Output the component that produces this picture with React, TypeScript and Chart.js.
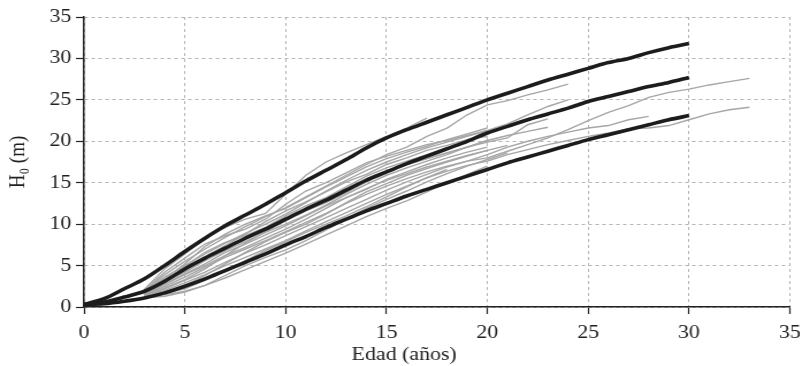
import React, { useEffect, useRef } from "react";
import { Chart, registerables } from "chart.js";

Chart.register(...registerables);

// ages (years)
const ages = [0, 1, 2, 3, 4, 5, 6, 7, 8, 9, 10, 11, 12, 13, 14, 15, 16, 17, 18, 19, 20, 21, 22, 23, 24, 25, 26, 27, 28, 29, 30, 31, 32, 33];
const xTicks = [0, 5, 10, 15, 20, 25, 30, 35];
const yTicks = [0, 5, 10, 15, 20, 25, 30, 35];

// site-index curves (start at age 0)
const curveHigh = [0.3, 1.0, 2.2, 3.4, 5.0, 6.7, 8.3, 9.8, 11.1, 12.4, 13.8, 15.2, 16.5, 17.8, 19.2, 20.4, 21.4, 22.3, 23.2, 24.1, 25.0, 25.8, 26.6, 27.4, 28.1, 28.8, 29.5, 30.0, 30.7, 31.3, 31.8];
const curveMid = [0.3, 0.6, 1.2, 1.9, 3.1, 4.6, 5.9, 7.1, 8.3, 9.4, 10.6, 11.8, 12.9, 14.1, 15.3, 16.3, 17.3, 18.2, 19.1, 20.0, 21.0, 21.8, 22.6, 23.3, 24.0, 24.8, 25.4, 26.0, 26.6, 27.1, 27.7];
const curveLow = [0.3, 0.4, 0.7, 1.1, 1.7, 2.5, 3.4, 4.4, 5.4, 6.4, 7.5, 8.5, 9.6, 10.6, 11.6, 12.5, 13.4, 14.2, 15.0, 15.8, 16.6, 17.4, 18.1, 18.8, 19.5, 20.2, 20.8, 21.4, 22.0, 22.6, 23.1];

// observed plot height series (start at age 3)
const obsStartAge = 3;
const obs01 = [2.15, 4.6, 6.4, 8.3, 9.6, 10.6, 11.3, 13.6, 15.9, 17.5, 18.6, 19.6, 20.6, 21.6, 22.8];
const obs02 = [1.95, 3.9, 5.5, 7.0, 8.4, 9.7, 10.9, 12.0, 13.3, 14.6, 15.9, 17.2, 18.4, 19.3, 20.6, 21.6, 23.2, 24.4, 24.9, 25.6, 26.2, 26.9];
const obs03 = [1.85, 3.6, 5.0, 6.4, 7.7, 8.9, 10.0, 11.2, 12.6, 14.0, 15.3, 16.5, 17.5, 18.4, 19.2, 19.9, 20.6, 21.3, 22.1, 23.2, 24.2, 25.0];
const obs04 = [1.75, 3.3, 4.6, 5.9, 7.2, 8.3, 9.4, 10.7, 11.9, 13.1, 14.3, 15.5, 16.4, 17.2, 17.9, 18.6, 19.3, 19.9, 20.4, 22.0, 22.7];
const obs05 = [1.65, 3.0, 4.2, 5.6, 6.8, 7.9, 9.0, 10.0, 11.1, 12.3, 13.6, 14.8, 15.9, 16.8, 17.6, 18.4, 19.3, 20.1, 20.7, 21.2, 21.7];
const obs06 = [1.5, 2.7, 3.9, 5.0, 6.2, 7.2, 8.3, 9.4, 10.6, 11.9, 13.2, 14.3, 15.3, 16.1, 16.9, 17.6, 18.3, 18.9, 19.5];
const obs07 = [1.35, 2.2, 3.2, 4.2, 5.4, 6.5, 7.5, 8.6, 9.7, 10.8, 11.9, 13.0, 14.1, 15.1, 16.0, 16.9, 17.6, 18.4, 19.3, 20.0, 20.6, 21.1, 21.6, 21.9, 22.6, 23.0];
const obs08 = [1.45, 2.5, 3.6, 4.8, 6.0, 7.0, 8.0, 9.1, 10.2, 11.3, 12.5, 13.6, 14.6, 15.5, 16.3, 17.0, 17.6, 18.0, 18.8, 19.6, 20.4, 21.4, 22.5, 23.5, 24.3, 25.3, 25.9, 26.3, 26.8, 27.2, 27.6];
const obs09 = [1.3, 2.0, 2.9, 3.9, 5.0, 6.0, 7.0, 8.0, 9.2, 10.3, 11.4, 12.5, 13.6, 14.6, 15.6, 16.4, 17.1, 17.6, 18.4, 19.0, 19.6, 20.1, 20.6, 21.0, 21.5, 21.6, 21.9, 22.6, 23.3, 23.8, 24.1];
const obs10 = [1.15, 1.5, 1.9, 2.6, 3.5, 4.5, 5.5, 6.5, 7.6, 8.7, 9.8, 10.9, 11.9, 12.8, 13.9, 15.0, 16.0, 17.0];
const obs11 = [1.8, 3.4, 5.2, 7.3, 8.8, 10.0, 11.0, 11.9, 13.2, 14.5, 15.7, 16.9, 17.9, 18.7, 19.4, 20.2, 20.9, 21.6];
const obs12 = [1.6, 2.9, 4.4, 6.1, 7.4, 8.8, 10.3, 11.6, 12.7, 13.9, 15.1, 16.0, 17.2, 18.0, 18.9, 19.5, 20.2, 20.6];
const obs13 = [1.4, 2.3, 3.3, 4.6, 6.2, 7.7, 9.1, 10.4, 11.6, 12.6, 13.8, 15.1, 16.4, 17.2, 17.9, 18.6, 19.3, 20.1];
const obs14 = [1.25, 1.8, 2.6, 3.8, 5.2, 6.6, 7.9, 9.0, 10.0, 11.2, 12.6, 13.9, 14.9, 15.9, 16.7, 17.5, 18.2, 18.9];
const obs15 = [1.1, 1.3, 1.8, 2.6, 3.8, 5.0, 6.0, 6.9, 8.0, 9.3, 10.6, 11.9, 13.0, 14.0, 15.1, 16.1, 17.0, 17.8, 18.6];
const obs16 = [1.7, 3.2, 4.9, 6.6, 7.8, 8.6, 9.6, 11.0, 12.2, 13.2, 14.5, 15.8, 16.8, 17.6, 18.4, 19.2, 20.0, 20.9];
const obs17 = [1.55, 2.8, 4.0, 5.2, 6.6, 7.6, 8.7, 9.8, 11.0, 12.2, 13.2, 14.2, 15.4, 16.3, 17.2, 18.0, 18.7, 19.3];
const obs18 = [1.2, 1.7, 2.2, 3.2, 4.3, 5.6, 6.8, 7.9, 9.0, 10.0, 11.0, 12.1, 13.3, 14.5, 15.6, 16.6];
const obs19 = [2.0, 4.2, 5.9, 7.6, 8.6, 9.4, 10.6, 12.4, 14.0, 15.0, 16.2, 17.4, 18.2, 18.9, 19.6, 20.1, 20.7, 21.3];

const observed = [obs01, obs02, obs03, obs04, obs05, obs06, obs07, obs08, obs09, obs10, obs11, obs12, obs13, obs14, obs15, obs16, obs17, obs18, obs19];
const curves = [curveHigh, curveMid, curveLow];

const xTitle = "Edad (años)";
const yTitle = "H₀ (m)";

// the figure's type is slightly wide: draw narrower and stretch horizontally
const CANVAS_W = 704;
const CANVAS_H = 366;
const STRETCH = 1.15;

export default function App() {
  const ref = useRef<HTMLCanvasElement | null>(null);

  useEffect(() => {
    if (!ref.current) return;
    const curveSets = curves.map((c, k) => ({
      label: "curve" + k,
      data: c.map((y, i) => ({ x: ages[i], y })),
      borderColor: "#1c1c1c",
      borderWidth: 3.6,
      pointRadius: 0,
      tension: 0.3,
      order: 0,
    }));
    const obsSets = observed.map((s, k) => ({
      label: "obs" + k,
      data: s.map((y, i) => ({ x: ages[obsStartAge + i], y })),
      borderColor: "#a6a6a6",
      borderWidth: 1.4,
      pointRadius: 0,
      tension: 0,
      order: 1,
    }));
    const font = { family: "'Liberation Serif', 'Times New Roman', serif", size: 19 };
    const gridOpts: any = {
      color: "#b3b3b3",
      lineWidth: 1,
      drawTicks: true,
      tickLength: 7,
      tickColor: "#222",
      tickWidth: 1.2,
      tickBorderDash: [],
    };
    const borderOpts: any = { display: true, color: "#222", width: 1.5, dash: [3, 3] };
    const chart = new Chart(ref.current, {
      type: "line",
      data: { datasets: [...curveSets, ...obsSets] as any },
      options: {
        animation: false,
        responsive: false,
        devicePixelRatio: 1,
        layout: { padding: { top: 17, right: 0, left: 0, bottom: 0 } },
        plugins: { legend: { display: false }, tooltip: { enabled: false } },
        scales: {
          x: {
            type: "linear",
            min: 0,
            max: 35,
            afterBuildTicks: (s: any) => {
              s.ticks = xTicks.map((v) => ({ value: v }));
            },
            afterFit: (s: any) => {
              s.height = 59;
            },
            ticks: { font, color: "#222", padding: 8, maxRotation: 0 },
            grid: gridOpts,
            border: borderOpts,
            title: {
              display: true,
              text: xTitle + "            ",
              font,
              color: "#222",
              padding: { top: 0, bottom: 0 },
            },
          },
          y: {
            type: "linear",
            min: 0,
            max: 35,
            afterBuildTicks: (s: any) => {
              s.ticks = yTicks.map((v) => ({ value: v }));
            },
            afterFit: (s: any) => {
              s.width = 73;
            },
            ticks: { font, color: "#222", padding: 4 },
            grid: gridOpts,
            border: borderOpts,
            title: { display: true, text: yTitle, font, color: "#222", padding: { top: 5, bottom: 0 } },
          },
        },
      },
    });
    return () => chart.destroy();
  }, []);

  return (
    <div style={{ position: "fixed", left: 0, top: 0, width: 800, height: 366, overflow: "hidden", background: "#fff" }}>
      <canvas
        ref={ref}
        width={CANVAS_W}
        height={CANVAS_H}
        style={{ width: CANVAS_W * STRETCH + "px", height: CANVAS_H + "px", display: "block" }}
      />
    </div>
  );
}
